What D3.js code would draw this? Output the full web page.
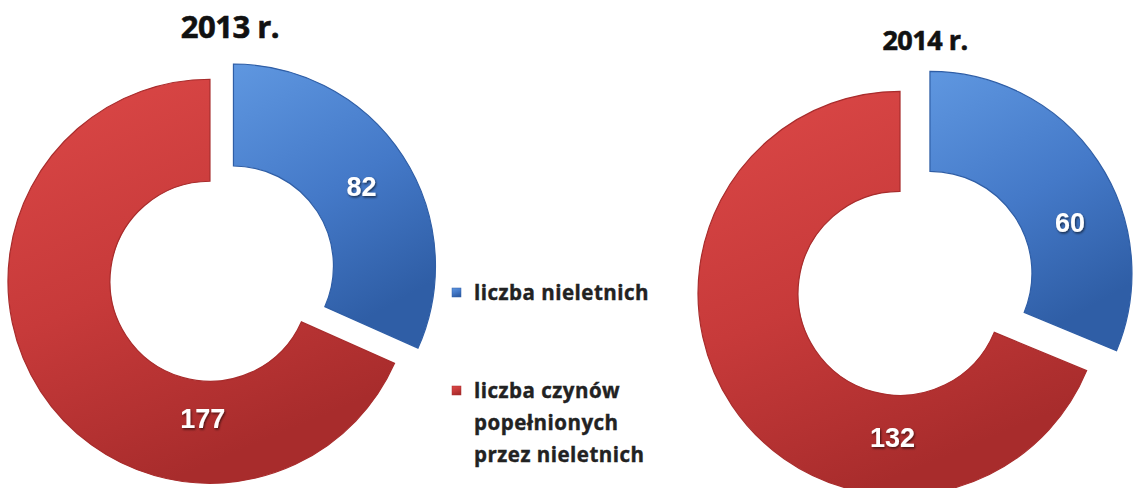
<!DOCTYPE html>
<html>
<head>
<meta charset="utf-8">
<script src="https://cdn.jsdelivr.net/npm/d3@7"></script>
<style>
  body { margin: 0; background: #fff; }
  svg { display: block; }
</style>
</head>
<body>
<svg id="chart" width="1134" height="488"></svg>
<script>
// data
const categories = ["liczba nieletnich", "liczba czynów popełnionych przez nieletnich"];
const years = ["2013 r.", "2014 r."];
const values2013 = [82, 177];
const values2014 = [60, 132];

const colors = ["#4479c8", "#c73a3a"];
const lightColors = ["#5f97e0", "#dc4847"];
const darkColors = ["#2f5ea6", "#a82c2c"];

// layout for each donut
const layout = [
  { cx: 215, cy: 278, outer: 202, inner: 100, explode: [22, 6], titleX: 230, titleY: 38, titleSize: 31,
    labelAngle: [58, 183], labelR: [151, 137] },
  { cx: 905, cy: 290, outer: 202, inner: 102, explode: [30, 6], titleX: 925, titleY: 50, titleSize: 27,
    labelAngle: [70, 183], labelR: [149, 144] }
];

const svg = d3.select("#chart");
const defs = svg.append("defs");

colors.forEach((c, i) => {
  const g = defs.append("linearGradient")
      .attr("id", "grad" + i)
      .attr("x1", "0").attr("y1", "0").attr("x2", "0.4").attr("y2", "1");
  g.append("stop").attr("offset", "0%").attr("stop-color", lightColors[i]);
  g.append("stop").attr("offset", "55%").attr("stop-color", colors[i]);
  g.append("stop").attr("offset", "100%").attr("stop-color", darkColors[i]);
});

const shadow = defs.append("filter").attr("id", "txtShadow")
    .attr("x", "-20%").attr("y", "-20%").attr("width", "140%").attr("height", "140%");
shadow.append("feDropShadow")
    .attr("dx", 1).attr("dy", 1.5).attr("stdDeviation", 1)
    .attr("flood-color", "#000").attr("flood-opacity", 0.6);

const pie = d3.pie().sort(null).startAngle(0).endAngle(2 * Math.PI);

[values2013, values2014].forEach((vals, k) => {
  const L = layout[k];
  const arc = d3.arc().innerRadius(L.inner).outerRadius(L.outer);
  const arcs = pie(vals);

  const g = svg.append("g");

  arcs.forEach((a, i) => {
    const mid = (a.startAngle + a.endAngle) / 2;
    const ox = Math.sin(mid) * L.explode[i];
    const oy = -Math.cos(mid) * L.explode[i];
    const sg = g.append("g").attr("transform", `translate(${L.cx + ox},${L.cy + oy})`);

    sg.append("path")
        .attr("d", arc(a))
        .attr("fill", `url(#grad${i})`)
        .attr("stroke", darkColors[i])
        .attr("stroke-width", 1.2);

    const la = L.labelAngle[i] * Math.PI / 180;
    sg.append("text")
        .attr("x", Math.sin(la) * L.labelR[i])
        .attr("y", -Math.cos(la) * L.labelR[i])
        .attr("dy", "0.36em")
        .attr("text-anchor", "middle")
        .attr("font-family", "'Liberation Sans', Arial, sans-serif")
        .attr("font-weight", "bold")
        .attr("font-size", 27)
        .attr("fill", "#fff")
        .attr("filter", "url(#txtShadow)")
        .text(a.data);
  });

  svg.append("text")
      .attr("x", L.titleX)
      .attr("y", L.titleY)
      .attr("text-anchor", "middle")
      .attr("font-family", "'Open Sans', sans-serif")
      .attr("font-weight", "bold")
      .attr("font-size", L.titleSize)
      .attr("letter-spacing", -0.5)
      .attr("fill", "#111")
      .attr("stroke", "#111")
      .attr("stroke-width", 0.6)
      .text(years[k]);
});

// legend
const legendLines = [["liczba nieletnich"], ["liczba czynów", "popełnionych", "przez nieletnich"]];
const legendY = [300, 398];
const legend = svg.append("g").attr("font-family", "'Open Sans', sans-serif")
    .attr("font-weight", "bold").attr("font-size", 20.5).attr("letter-spacing", 0.5)
    .attr("fill", "#222").attr("stroke", "#222").attr("stroke-width", 0.4);

legendLines.forEach((lines, i) => {
  legend.append("rect")
      .attr("x", 452).attr("y", legendY[i] - 12)
      .attr("width", 9).attr("height", 9)
      .attr("fill", `url(#grad${i})`)
      .attr("stroke", darkColors[i]).attr("stroke-width", 0.5);
  lines.forEach((t, j) => {
    legend.append("text")
        .attr("x", 474)
        .attr("y", legendY[i] + j * 32)
        .text(t);
  });
});
</script>
</body>
</html>
